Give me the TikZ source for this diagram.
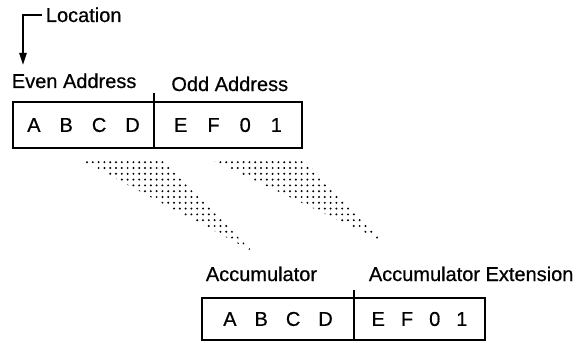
\documentclass[tikz,border=0pt]{standalone}
\usepackage{fontspec}
\setmainfont{Liberation Sans}[FakeBold=0.6]
\usetikzlibrary{positioning,arrows.meta,patterns.meta}

\newcommand{\digitgap}[1]{\hspace{#1}}

\begin{document}
\begin{tikzpicture}[
    x=0.5pt, y=-0.5pt,
    node distance=0pt,
    regbox/.style={
        rectangle,
        draw=black,
        line width=1pt,
        minimum height=23pt,
        outer sep=0pt,
        inner sep=0pt,
        text centered,
        font=\normalsize
    },
    tag/.style={
        inner sep=2pt,
        anchor=base west,
        font=\normalsize
    },
    arrow/.style={
        -{Triangle[length=6pt,width=3.6pt]},
        line width=1pt
    },
    shade/.style={
        pattern={Dots[distance=2.9pt,radius=0.55pt]},
        pattern color=black
    }
]
\useasboundingbox (0,0) rectangle (587,342);

% Memory word
\node[regbox, minimum width=70.5pt] (evenbox) at (83.5,125)
    {A\digitgap{9.5pt}B\digitgap{9.5pt}C\digitgap{9.5pt}D};
\node[regbox, minimum width=74pt, right=of evenbox] (oddbox)
    {E\digitgap{10pt}F\digitgap{10pt}0\digitgap{10pt}1};
\draw[line width=1pt] (evenbox.north east) -- ++(0,-9);

\node[tag] (evenlabel) at (7.5,88) {Even Address};
\node[tag] (oddlabel) at (167,91) {Odd Address};

% Location pointer
\node[tag] (location) at (41.5,22) {Location};
\coordinate (loctip) at (23,65);
\draw[arrow] (location.west) -| (loctip);

% Transfer shading
\draw[draw=none, shade] (77,158) -- (160,158) -- (252,251) -- cycle;
\draw[draw=none, shade] (208,158) -- (302,158) -- (386,243) -- cycle;

% Accumulator pair
\node[regbox, minimum width=76pt, minimum height=21pt] (accbox) at (278,319)
    {A\digitgap{9pt}B\digitgap{9pt}C\digitgap{9pt}D};
\node[regbox, minimum width=65.5pt, minimum height=21pt, right=of accbox] (extbox)
    {E\digitgap{8pt}F\digitgap{8pt}0\digitgap{8pt}1};
\draw[line width=1pt] (accbox.north east) -- ++(0,-8);

\node[tag] (acclabel) at (201.5,281) {Accumulator};
\node[tag] (extlabel) at (364.5,281) {Accumulator Extension};

\end{tikzpicture}
\end{document}
